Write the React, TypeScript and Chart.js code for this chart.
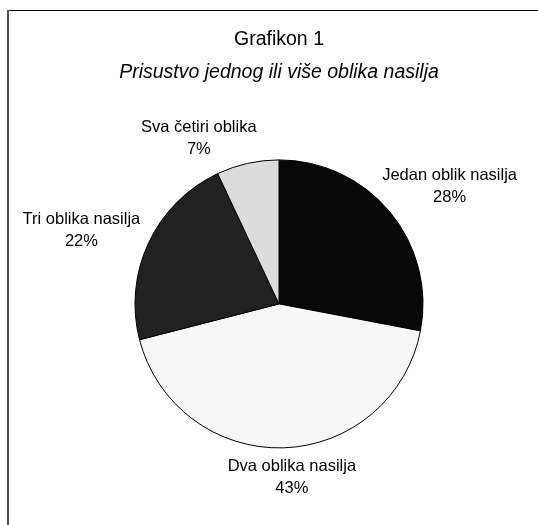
import React, { useEffect, useRef } from "react";
import { Chart, registerables } from "chart.js";

Chart.register(...registerables);

const categories = ["Jedan oblik nasilja", "Dva oblika nasilja", "Tri oblika nasilja", "Sva četiri oblika"];
const values = [28, 43, 22, 7];
const sliceColors = ["#080808", "#f7f7f7", "#212121", "#dcdcdc"];
const titleText = "Grafikon 1";
const subtitleText = "Prisustvo jednog ili više oblika nasilja";

const FONT = "'Liberation Sans', Arial, sans-serif";

const framePlugin = {
  id: "frame",
  beforeDraw(chart: any) {
    const ctx = chart.ctx;
    ctx.save();
    ctx.fillStyle = "#ffffff";
    ctx.fillRect(0, 0, chart.width, chart.height);
    ctx.fillStyle = "#000000";
    ctx.fillRect(7, 10, chart.width - 7, 1);
    ctx.fillStyle = "#505050";
    ctx.fillRect(7, 10, 2, chart.height - 10);
    ctx.restore();
  },
};

const labelPlugin = {
  id: "sliceLabels",
  afterDatasetsDraw(chart: any, _args: any, opts: any) {
    const ctx = chart.ctx;
    const meta = chart.getDatasetMeta(0);
    const lh = opts.lineHeight;
    ctx.save();
    ctx.font = `${opts.size}px ${FONT}`;
    ctx.fillStyle = "#000";
    ctx.textAlign = "center";
    ctx.textBaseline = "middle";
    meta.data.forEach((arc: any, i: number) => {
      const p = arc.getProps(["x", "y", "startAngle", "endAngle", "outerRadius"], true);
      const a = (p.startAngle + p.endAngle) / 2;
      const lines = [categories[i], `${values[i]}%`];
      const w = Math.max(...lines.map((l) => ctx.measureText(l).width));
      const h = lh * lines.length;
      const ax = p.x + (p.outerRadius + opts.gap) * Math.cos(a);
      const ay = p.y + (p.outerRadius + opts.gap) * Math.sin(a);
      const nudge = (opts.nudge && opts.nudge[i]) || [0, 0];
      const cx = ax + (w / 2) * Math.cos(a) + nudge[0];
      const cy = ay + (h / 2) * Math.sin(a) + nudge[1];
      lines.forEach((l, k) => {
        ctx.fillText(l, cx, cy - h / 2 + lh / 2 + k * lh);
      });
    });
    ctx.restore();
  },
};

export default function App() {
  const ref = useRef<HTMLCanvasElement>(null);
  useEffect(() => {
    if (!ref.current) return;
    const chart = new Chart(ref.current, {
      type: "pie",
      data: {
        labels: categories,
        datasets: [
          {
            data: values,
            backgroundColor: sliceColors,
            borderColor: "#000000",
            borderWidth: 1,
            radius: 144,
          } as any,
        ],
      },
      options: {
        responsive: false,
        animation: false,
        layout: { padding: { left: 20, right: 0, top: 0, bottom: 1 } },
        plugins: {
          legend: { display: false },
          tooltip: { enabled: false },
          title: {
            display: true,
            text: titleText,
            color: "#000",
            font: { family: FONT, size: 19.5, weight: "normal" as any, lineHeight: 1.2 },
            padding: { top: 28, bottom: 9 },
          },
          subtitle: {
            display: true,
            text: subtitleText,
            color: "#000",
            font: { family: FONT, size: 19.5, style: "italic", weight: "normal" as any, lineHeight: 1.2 },
            padding: { top: 0, bottom: 0 },
          },
          sliceLabels: {
            size: 16.5,
            lineHeight: 22,
            gap: 10,
            nudge: [[0, -5], [6, -2], [-5, 1], [-34, 6]],
          },
        } as any,
      },
      plugins: [framePlugin, labelPlugin],
    });
    return () => chart.destroy();
  }, []);
  return (
    <div style={{ position: "fixed", left: 0, top: 0, width: 538, height: 525 }}>
      <canvas ref={ref} width={538} height={525} style={{ display: "block" }} />
    </div>
  );
}
